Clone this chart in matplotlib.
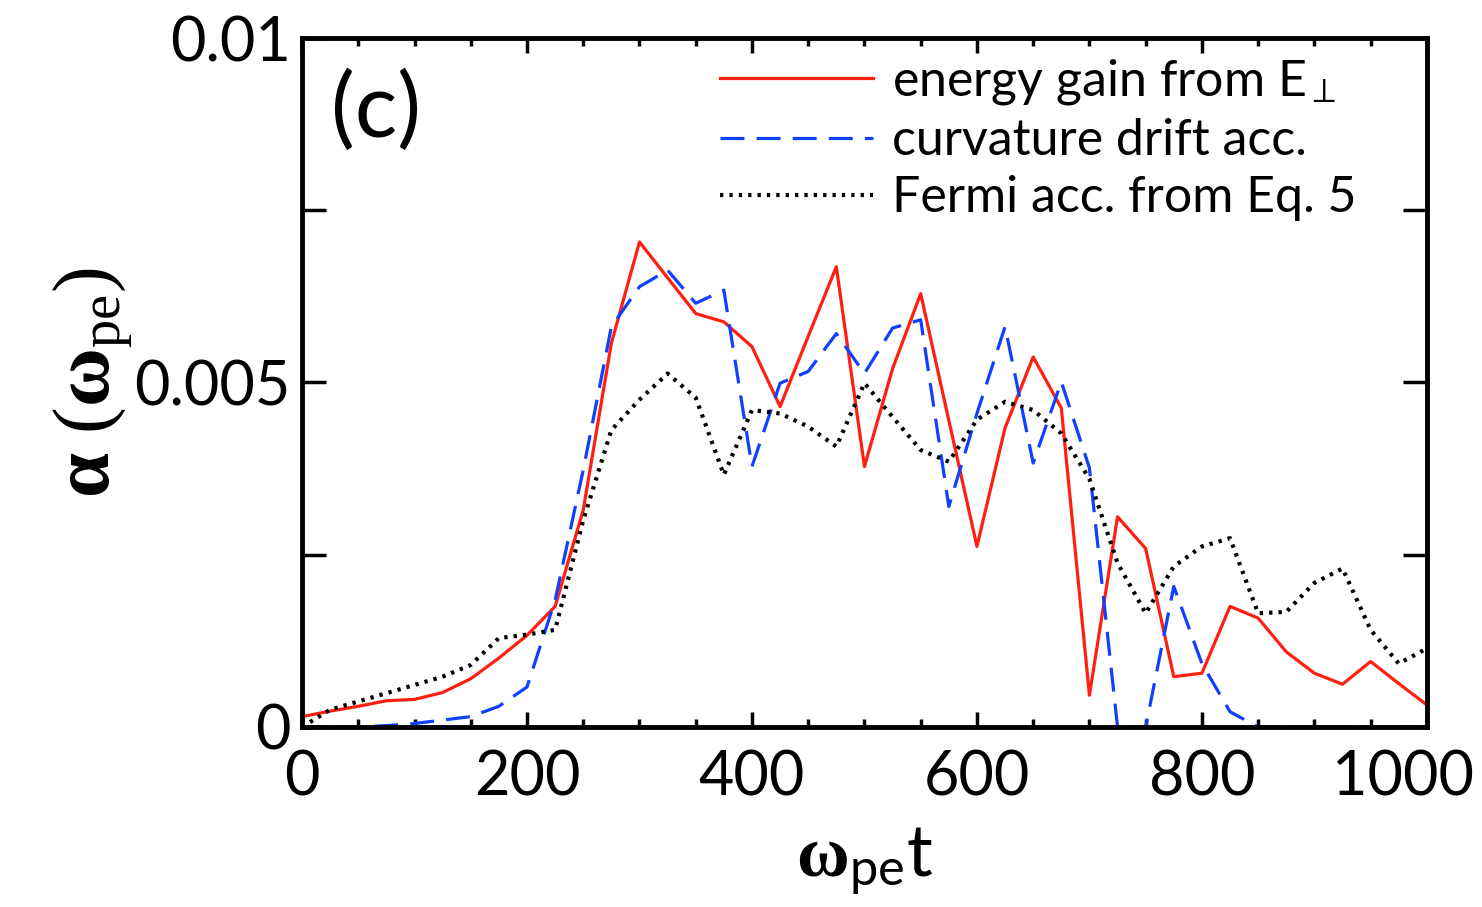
import numpy as np
import matplotlib
matplotlib.use('Agg')
import matplotlib.pyplot as plt
import matplotlib.transforms as mtransforms
from matplotlib.ticker import MultipleLocator

# time axis (omega_pe t)
t = np.arange(0, 1001, 25)

# energy gain from E_perp
e_perp = [0.00015, 0.00023, 0.0003, 0.00038, 0.0004, 0.0005, 0.0007, 0.001,
          0.00133, 0.00175, 0.00315, 0.00557, 0.00704, 0.00652, 0.006, 0.00588,
          0.00552, 0.00465, 0.00567, 0.00668, 0.00378, 0.0052, 0.00629, 0.00445,
          0.00262, 0.00434, 0.00537, 0.00463, 0.00046, 0.00305, 0.00259, 0.00073,
          0.00078, 0.00175, 0.00158, 0.00109, 0.00078, 0.00062, 0.00095, 0.00063,
          0.00032]

# curvature drift acceleration
curv = [0.0, 0.0, 0.0, 0.00002, 0.00005, 0.0001, 0.00015, 0.0003,
        0.00058, 0.00184, 0.00373, 0.00581, 0.00639, 0.00663, 0.00615, 0.00634,
        0.00378, 0.00499, 0.00516, 0.00571, 0.00513, 0.00579, 0.00591, 0.0032,
        0.00455, 0.00581, 0.00383, 0.00501, 0.00376, 0.0, 0.0, 0.00204,
        0.00092, 0.00022, 0.0, 0.0, 0.0, 0.0, 0.0, 0.0,
        0.0]

# Fermi acceleration from Eq. 5
fermi = [0.0, 0.00025, 0.00037, 0.00049, 0.00061, 0.00073, 0.0009, 0.00129,
         0.00134, 0.00141, 0.003, 0.00431, 0.00475, 0.00513, 0.00478, 0.00366,
         0.0046, 0.00455, 0.00436, 0.00407, 0.00499, 0.0045, 0.00402, 0.00385,
         0.00446, 0.00472, 0.0046, 0.00426, 0.0036, 0.00238, 0.00165, 0.00233,
         0.00262, 0.00274, 0.00165, 0.00167, 0.00209, 0.0023, 0.00141, 0.00092,
         0.00114]

xticks = [0, 200, 400, 600, 800, 1000]
yticks = [0, 0.0025, 0.005, 0.0075, 0.01]
ytick_labels = ['0', '', '0.005', '', '0.01']

plt.rcParams['mathtext.fontset'] = 'custom'
plt.rcParams['mathtext.rm'] = 'Liberation Serif'
plt.rcParams['mathtext.it'] = 'Liberation Serif:italic'
plt.rcParams['mathtext.bf'] = 'Liberation Serif:bold'
plt.rcParams['mathtext.sf'] = 'Lato'
tick_font = ['Lato', 'DejaVu Sans']

fig = plt.figure(figsize=(14.82, 9.07), dpi=100)
ax = fig.add_axes([0.2038, 0.1985, 0.7590, 0.7596])

ax.plot(t, e_perp, color='#ff1e10', lw=2.3, ls='-', label=r'energy gain from E$_\perp$')
ax.plot(t, curv, color='#1040ff', lw=2.3, ls=(0, (7.5, 3.8)), label='curvature drift acc.')
ax.plot(t, fermi, color='black', lw=3.0, ls=(0, (0.8, 1.45)), label='Fermi acc. from Eq. 5')

ax.set_xlim(0, 1000)
ax.set_ylim(0, 0.01)

ax.set_xticks(xticks)
ax.set_xticklabels([str(v) for v in xticks])
ax.xaxis.set_minor_locator(MultipleLocator(50))
ax.set_yticks(yticks)
ax.set_yticklabels(ytick_labels)

for s in ax.spines.values():
    s.set_linewidth(3.5)

ax.tick_params(axis='both', which='both', direction='in', top=True, right=True, width=2.5)
ax.tick_params(axis='x', which='major', length=11, pad=16)
ax.tick_params(axis='x', which='minor', length=6)
ax.tick_params(axis='y', which='major', length=17, pad=8)

for lab in ax.get_xticklabels() + ax.get_yticklabels():
    lab.set_family(tick_font)
    lab.set_fontsize(44)

# the last x label sits a bit left so it stays inside the figure, as in the original
last = ax.get_xticklabels()[-1]
last.set_transform(last.get_transform() +
                   mtransforms.ScaledTranslation(-24 / 100, 0, fig.dpi_scale_trans))

ax.set_ylabel(r'$\mathbf{α}\ (\mathbf{ω}_{\mathrm{pe}})$', fontsize=58, labelpad=0)
ax.set_xlabel(r'$\mathbf{ω}_{\mathsf{pe}}\mathsf{t}$', fontsize=52, labelpad=14)

ax.text(0.026, 0.893, '(c)', transform=ax.transAxes, fontsize=64, family=tick_font,
        va='center', ha='left')

leg = ax.legend(loc='upper left', bbox_to_anchor=(0.3716, 0.972), frameon=False,
                handlelength=3.05, handletextpad=0.38, labelspacing=0.22,
                borderpad=0, borderaxespad=0, prop={'family': tick_font, 'size': 36})

fig.savefig('out.png', dpi=100)
